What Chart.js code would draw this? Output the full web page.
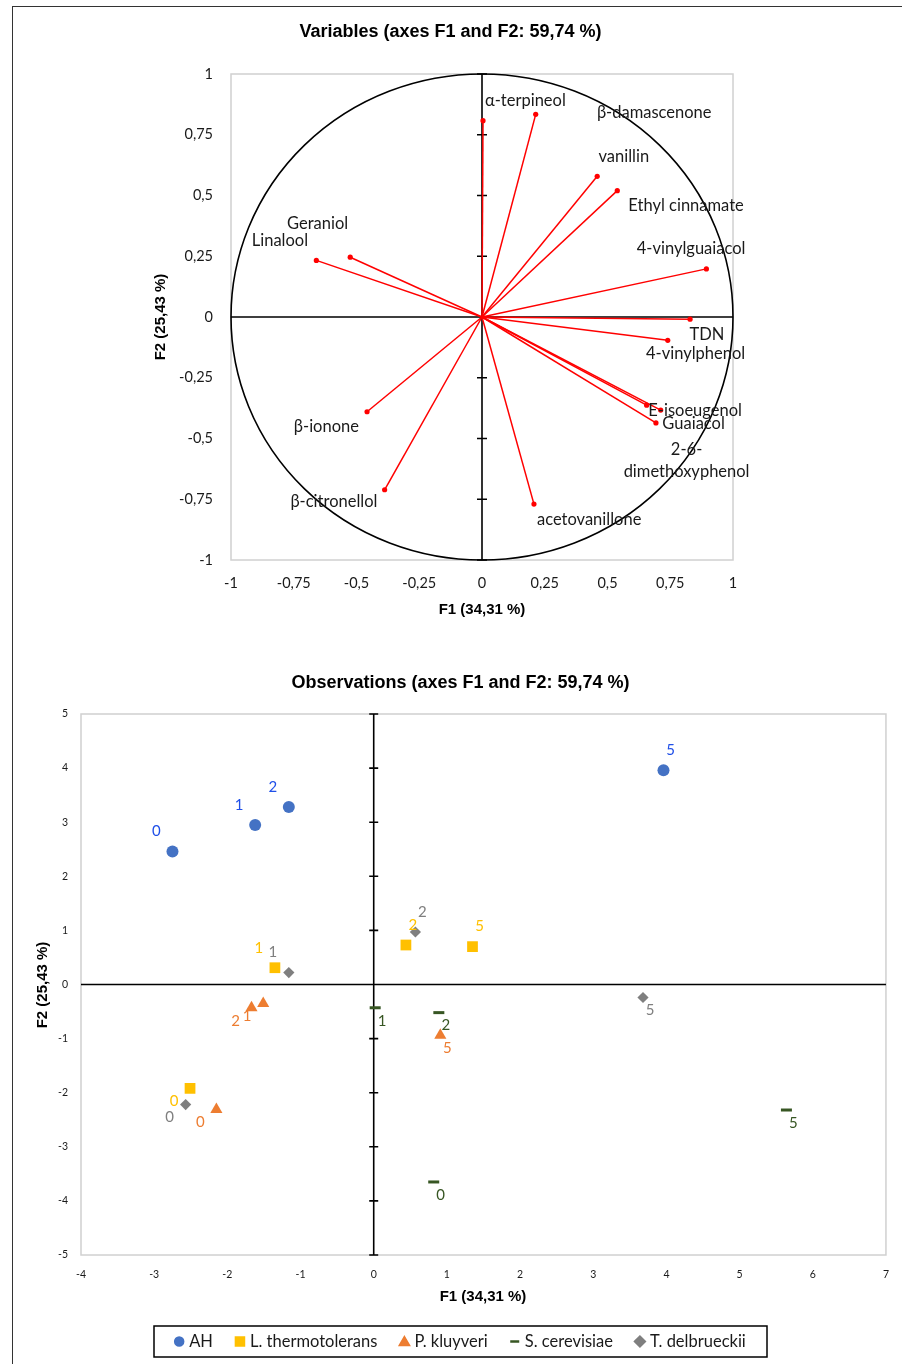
<!DOCTYPE html>
<html>
<head>
<meta charset="utf-8">
<script src="https://cdn.jsdelivr.net/npm/chart.js@4/dist/chart.umd.min.js"></script>
<style>
  html, body { margin: 0; padding: 0; background: #fff; }
  #page { position: relative; width: 902px; height: 1364px; overflow: hidden; background: #fff; }
  #frame { position: absolute; left: 12px; top: 6px; width: 1000px; height: 1500px;
           border-left: 1.5px solid #333; border-top: 1.5px solid #333; }
  canvas { position: absolute; left: 0; }
</style>
</head>
<body>
<div id="page">
  <div id="frame"></div>
  <canvas id="vars" width="902" height="640" style="top:0"></canvas>
  <canvas id="obs" width="902" height="724" style="top:640px"></canvas>
</div>
<script>
// ---------- Variables: loadings on F1 / F2 ----------
const variableNames = ['α-terpineol', 'β-damascenone', 'vanillin', 'Ethyl cinnamate', '4-vinylguaiacol',
  'TDN', '4-vinylphenol', 'E-isoeugenol', 'Guaiacol', '2-6-dimethoxyphenol', 'acetovanillone',
  'β-citronellol', 'β-ionone', 'Linalool', 'Geraniol'];
const loadingsF1 = [0.004, 0.214, 0.459, 0.539, 0.894, 0.829, 0.740, 0.712, 0.693, 0.656, 0.207,
  -0.388, -0.458, -0.660, -0.525];
const loadingsF2 = [0.808, 0.834, 0.579, 0.520, 0.198, -0.009, -0.096, -0.383, -0.436, -0.363, -0.770,
  -0.711, -0.390, 0.233, 0.246];
const circleTicks = [-1, -0.75, -0.5, -0.25, 0, 0.25, 0.5, 0.75, 1];

// where each variable name is written (axis units) and how long names wrap
const variableLabelAt = {
  'α-terpineol': [0.173, 0.889], 'β-damascenone': [0.686, 0.842], 'vanillin': [0.565, 0.661],
  'Ethyl cinnamate': [0.813, 0.458], '4-vinylguaiacol': [0.833, 0.283], 'TDN': [0.896, -0.071],
  '4-vinylphenol': [0.851, -0.149], 'E-isoeugenol': [0.849, -0.384], 'Guaiacol': [0.843, -0.440],
  '2-6-dimethoxyphenol': [0.815, -0.593], 'acetovanillone': [0.427, -0.833],
  'β-citronellol': [-0.590, -0.761], 'β-ionone': [-0.620, -0.451], 'Linalool': [-0.805, 0.316],
  'Geraniol': [-0.655, 0.384]
};
const wrappedNames = { '2-6-dimethoxyphenol': ['2-6-', 'dimethoxyphenol'] };

// ---------- Observations: scores on F1 / F2 ----------
const obsIds = ['0', '1', '2', '5'];
const ahF1 = [-2.75, -1.62, -1.16, 3.96];
const ahF2 = [2.46, 2.95, 3.28, 3.96];
const lthF1 = [-2.51, -1.35, 0.44, 1.35];
const lthF2 = [-1.92, 0.31, 0.73, 0.70];
const pklF1 = [-2.15, -1.51, -1.67, 0.91];
const pklF2 = [-2.31, -0.35, -0.43, -0.94];
const scerF1 = [0.82, 0.02, 0.89, 5.64];
const scerF2 = [-3.65, -0.43, -0.52, -2.32];
const tdelF1 = [-2.57, -1.16, 0.57, 3.68];
const tdelF2 = [-2.22, 0.22, 0.97, -0.24];
const obsXTicks = [-4, -3, -2, -1, 0, 1, 2, 3, 4, 5, 6, 7];
const obsYTicks = [-5, -4, -3, -2, -1, 0, 1, 2, 3, 4, 5];

const LABEL_FONT = 'Lato, "DejaVu Sans", sans-serif';
const TITLE_FONT = '"Liberation Sans", Arial, sans-serif';
const decimalComma = v => String(v).replace('.', ',');

// plot frame, the two zero axes and the cross ticks on the vertical one
const zeroAxes = {
  id: 'zeroAxes',
  beforeDatasetsDraw(chart, args, opts) {
    const { ctx, chartArea: a, scales: { x, y } } = chart;
    ctx.save();
    ctx.strokeStyle = '#D0D0D0';
    ctx.lineWidth = 1.5;
    ctx.strokeRect(a.left, a.top, a.right - a.left, a.bottom - a.top);
    const x0 = x.getPixelForValue(0), y0 = y.getPixelForValue(0);
    ctx.strokeStyle = '#000';
    ctx.lineWidth = 1.6;
    ctx.beginPath();
    ctx.moveTo(a.left, y0); ctx.lineTo(a.right, y0);
    ctx.moveTo(x0, a.top); ctx.lineTo(x0, a.bottom);
    y.ticks.forEach(t => {
      const py = y.getPixelForValue(t.value);
      ctx.moveTo(x0 - opts.tick, py); ctx.lineTo(x0 + opts.tick, py);
    });
    ctx.stroke();
    if (opts.circle) {
      const rx = x.getPixelForValue(1) - x0, ry = y0 - y.getPixelForValue(1);
      ctx.lineWidth = 1.6;
      ctx.beginPath();
      ctx.ellipse(x0, y0, rx, ry, 0, 0, Math.PI * 2);
      ctx.stroke();
    }
    ctx.restore();
  }
};

// chart title and axis titles
const titles = {
  id: 'titles',
  afterDraw(chart, args, opts) {
    const { ctx } = chart;
    ctx.save();
    ctx.fillStyle = '#000';
    ctx.textAlign = 'center';
    ctx.textBaseline = 'middle';
    ctx.font = 'bold ' + opts.titleSize + 'px ' + TITLE_FONT;
    ctx.fillText(opts.title, opts.titleAt[0], opts.titleAt[1]);
    ctx.font = 'bold ' + opts.axisSize + 'px ' + TITLE_FONT;
    ctx.fillText(opts.xTitle, opts.xTitleAt[0], opts.xTitleAt[1]);
    ctx.translate(opts.yTitleAt[0], opts.yTitleAt[1]);
    ctx.rotate(-Math.PI / 2);
    ctx.fillText(opts.yTitle, 0, 0);
    ctx.restore();
  }
};

// names next to the loading vectors
const vectorNames = {
  id: 'vectorNames',
  afterDatasetsDraw(chart) {
    const { ctx, scales: { x, y } } = chart;
    ctx.save();
    ctx.fillStyle = '#1a1a1a';
    ctx.font = '16.5px ' + LABEL_FONT;
    ctx.textAlign = 'center';
    ctx.textBaseline = 'middle';
    variableNames.forEach(name => {
      const at = variableLabelAt[name];
      const lines = wrappedNames[name] || [name];
      const px = x.getPixelForValue(at[0]), py = y.getPixelForValue(at[1]);
      const lh = 22;
      lines.forEach((ln, i) => ctx.fillText(ln, px, py + (i - (lines.length - 1) / 2) * lh));
    });
    ctx.restore();
  }
};

const fixedTicks = list => scale => { scale.ticks = list.map(v => ({ value: v })); };

new Chart(document.getElementById('vars'), {
  type: 'scatter',
  data: {
    datasets: variableNames.map((name, i) => ({
      label: name,
      data: [{ x: 0, y: 0 }, { x: loadingsF1[i], y: loadingsF2[i] }],
      showLine: true,
      borderColor: '#FF0000',
      backgroundColor: '#FF0000',
      borderWidth: 1.5,
      pointRadius: [0, 2.6],
      pointBorderWidth: 0
    }))
  },
  options: {
    responsive: false,
    animation: false,
    events: [],
    layout: { padding: { left: 131, right: 169, top: 74, bottom: 50 } },
    plugins: {
      legend: { display: false },
      tooltip: { enabled: false },
      zeroAxes: { tick: 5, circle: true },
      titles: {
        title: 'Variables (axes F1 and F2: 59,74 %)', titleSize: 18, titleAt: [450.5, 32],
        xTitle: 'F1 (34,31 %)', xTitleAt: [482, 610], axisSize: 15,
        yTitle: 'F2 (25,43 %)', yTitleAt: [161, 317]
      }
    },
    scales: {
      x: {
        type: 'linear', min: -1, max: 1,
        afterBuildTicks: fixedTicks(circleTicks),
        afterFit: s => { s.height = 30; },
        grid: { display: false, drawTicks: false },
        border: { display: false },
        ticks: { padding: 15, color: '#1a1a1a', font: { family: LABEL_FONT, size: 14.5 }, callback: decimalComma, maxRotation: 0, autoSkip: false }
      },
      y: {
        type: 'linear', min: -1, max: 1,
        afterBuildTicks: fixedTicks(circleTicks),
        afterFit: s => { s.width = 100; },
        grid: { display: false, drawTicks: false },
        border: { display: false },
        ticks: { padding: 18, color: '#1a1a1a', font: { family: LABEL_FONT, size: 14.5 }, callback: decimalComma, autoSkip: false }
      }
    }
  },
  plugins: [zeroAxes, vectorNames, titles]
});

// ---------- observations chart ----------
const obsSeries = [
  { label: 'AH', f1: ahF1, f2: ahF2, style: 'circle', radius: 6, legendRadius: 4.5, color: '#4472C4', text: '#1F4FE8', lw: 0 },
  { label: 'L. thermotolerans', f1: lthF1, f2: lthF2, style: 'rect', radius: 7.6, legendRadius: 6.4, color: '#FFC000', text: '#FFC000', lw: 0 },
  { label: 'P. kluyveri', f1: pklF1, f2: pklF2, style: 'triangle', radius: 7, legendRadius: 6, color: '#ED7D31', text: '#ED7D31', lw: 0 },
  { label: 'S. cerevisiae', f1: scerF1, f2: scerF2, style: 'line', radius: 5.5, legendRadius: 4.5, color: '#375623', text: '#375623', lw: 3 },
  { label: 'T. delbrueckii', f1: tdelF1, f2: tdelF2, style: 'rectRot', radius: 5.6, legendRadius: 4.8, color: '#7F7F7F', text: '#7F7F7F', lw: 0 }
];

// observation ids written beside each marker, pushed away from the origin
const obsIdLabels = {
  id: 'obsIdLabels',
  afterDatasetsDraw(chart) {
    const { ctx } = chart;
    ctx.save();
    ctx.font = '15px ' + LABEL_FONT;
    ctx.textAlign = 'center';
    ctx.textBaseline = 'middle';
    obsSeries.forEach((s, di) => {
      const meta = chart.getDatasetMeta(di);
      ctx.fillStyle = s.text;
      meta.data.forEach((pt, i) => {
        const dx = s.f1[i] < 0 ? -16 : 7;
        const dy = s.f2[i] > 0 ? -20 : 13;
        ctx.fillText(obsIds[i], pt.x + dx, pt.y + dy);
      });
    });
    ctx.restore();
  }
};

// boxed legend under the plot
const boxLegend = {
  id: 'boxLegend',
  afterDraw(chart, args, opts) {
    const { ctx } = chart;
    const [l, t, r, b] = opts.box;
    ctx.save();
    ctx.strokeStyle = '#000';
    ctx.lineWidth = 1.5;
    ctx.strokeRect(l, t, r - l, b - t);
    ctx.font = '16.5px ' + LABEL_FONT;
    ctx.textBaseline = 'middle';
    ctx.textAlign = 'left';
    const gapMark = 10, gapItem = 27;
    const widths = obsSeries.map(s => ctx.measureText(s.label).width);
    let total = 0;
    widths.forEach((w, i) => { total += gapMark + w + (i < widths.length - 1 ? gapItem : 0); });
    let x = (l + r) / 2 - total / 2 + 2;
    const cy = (t + b) / 2;
    obsSeries.forEach((s, i) => {
      ctx.fillStyle = s.color;
      ctx.strokeStyle = s.color;
      ctx.lineWidth = s.style === 'line' ? 2.5 : 0;
      Chart.helpers.drawPoint(ctx, { pointStyle: s.style, radius: s.legendRadius, borderWidth: ctx.lineWidth, rotation: 0 }, x, cy + (s.style === 'triangle' ? 1 : 0));
      if (s.style !== 'line') ctx.fill();
      ctx.fillStyle = '#1a1a1a';
      ctx.fillText(s.label, x + gapMark, cy);
      x += gapMark + widths[i] + gapItem;
    });
    ctx.restore();
  }
};

new Chart(document.getElementById('obs'), {
  type: 'scatter',
  data: {
    datasets: obsSeries.map(s => ({
      label: s.label,
      data: s.f1.map((v, i) => ({ x: v, y: s.f2[i] })),
      pointStyle: s.style,
      pointRadius: s.radius,
      backgroundColor: s.color,
      borderColor: s.color,
      pointBorderWidth: s.lw
    }))
  },
  options: {
    responsive: false,
    animation: false,
    events: [],
    layout: { padding: { left: 31, right: 15, top: 74, bottom: 79 } },
    plugins: {
      legend: { display: false },
      tooltip: { enabled: false },
      zeroAxes: { tick: 4.5, circle: false },
      boxLegend: { box: [154, 686, 767, 717] },
      titles: {
        title: 'Observations (axes F1 and F2: 59,74 %)', titleSize: 18, titleAt: [460.5, 43],
        xTitle: 'F1 (34,31 %)', xTitleAt: [483, 657], axisSize: 15,
        yTitle: 'F2 (25,43 %)', yTitleAt: [43, 345]
      }
    },
    scales: {
      x: {
        type: 'linear', min: -4, max: 7,
        afterBuildTicks: fixedTicks(obsXTicks),
        afterFit: s => { s.height = 30; },
        grid: { display: false, drawTicks: false },
        border: { display: false },
        ticks: { padding: 13, color: '#1a1a1a', font: { family: LABEL_FONT, size: 10.5 }, maxRotation: 0, autoSkip: false }
      },
      y: {
        type: 'linear', min: -5, max: 5,
        afterBuildTicks: fixedTicks(obsYTicks),
        afterFit: s => { s.width = 50; },
        grid: { display: false, drawTicks: false },
        border: { display: false },
        ticks: { padding: 13, color: '#1a1a1a', font: { family: LABEL_FONT, size: 10.5 }, autoSkip: false }
      }
    }
  },
  plugins: [zeroAxes, obsIdLabels, boxLegend, titles]
});
</script>
</body>
</html>
